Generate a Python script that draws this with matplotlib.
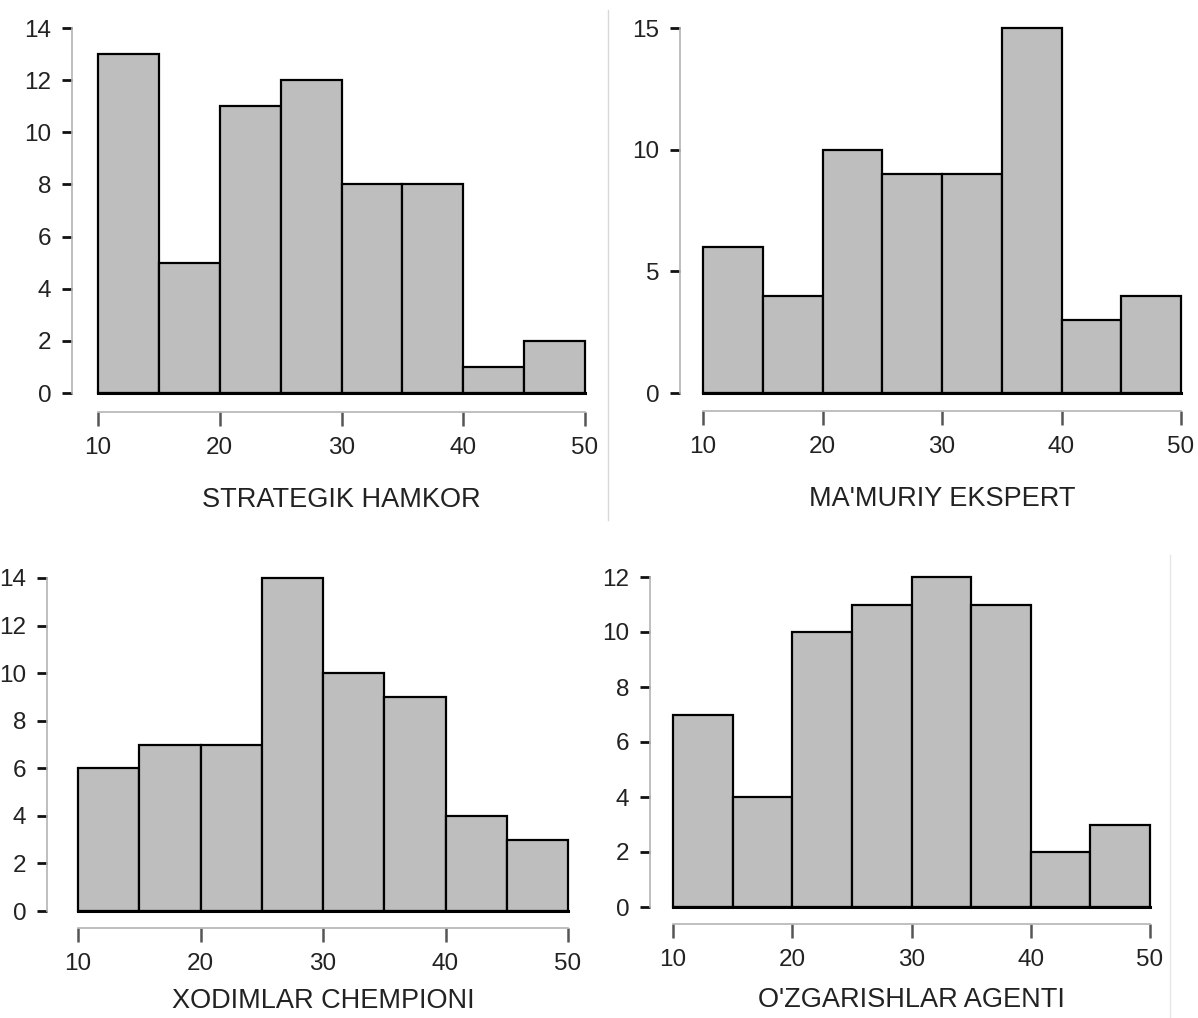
import matplotlib
matplotlib.use("Agg")
import matplotlib.pyplot as plt

plt.rcParams["font.family"] = ["Liberation Sans", "DejaVu Sans"]

bin_edges = [10, 15, 20, 25, 30, 35, 40, 45, 50]
x_ticks = [10, 20, 30, 40, 50]

titles = ["STRATEGIK HAMKOR", "MA'MURIY EKSPERT", "XODIMLAR CHEMPIONI", "O'ZGARISHLAR AGENTI"]
strategik = [13, 5, 11, 12, 8, 8, 1, 2]
mamuriy = [6, 4, 10, 9, 9, 15, 3, 4]
xodimlar = [6, 7, 7, 14, 10, 9, 4, 3]
ozgarish = [7, 4, 10, 11, 12, 11, 2, 3]
y_ticks = [[0, 2, 4, 6, 8, 10, 12, 14], [0, 5, 10, 15],
           [0, 2, 4, 6, 8, 10, 12, 14], [0, 2, 4, 6, 8, 10, 12]]

W, H = 1198, 1018
fig = plt.figure(figsize=(W / 100, H / 100), dpi=100)
PX = 72 / 100  # points per pixel

# panel layout in pixels: (x of 10, x of 50, y of 0, y of top tick, y-axis x, x-axis y, label pad)
panels = [
    (98, 585, 393, 28, 72, 412, 20),
    (703, 1181, 393, 28, 680, 411, 20),
    (78, 568, 911, 578, 47, 928, 9.5),
    (673, 1150, 907, 577, 650, 924, 11.5),
]

for counts, title, yt, (x0, x1, y0, y1, yax, xax, lpad) in zip(
        [strategik, mamuriy, xodimlar, ozgarish], titles, y_ticks, panels):
    ax = fig.add_axes([x0 / W, 1 - y0 / H, (x1 - x0) / W, (y0 - y1) / H])
    ax.bar(bin_edges[:-1], counts, width=5, align="edge", color="#bebebe",
           edgecolor="black", linewidth=1.6, clip_on=False)
    ax.plot([10, 50], [0, 0], color="black", lw=2.2, clip_on=False)
    ax.set_xlim(10, 50)
    ax.set_ylim(0, yt[-1])
    ax.set_xticks(x_ticks)
    ax.set_yticks(yt)
    for s in ("top", "right"):
        ax.spines[s].set_visible(False)
    ax.spines["left"].set_position(("outward", (x0 - yax) * PX))
    ax.spines["bottom"].set_position(("outward", (xax - y0) * PX))
    ax.spines["left"].set_bounds(0, yt[-1])
    ax.spines["bottom"].set_bounds(10, 50)
    for s in ("left", "bottom"):
        ax.spines[s].set_color("#b4b4b4")
        ax.spines[s].set_linewidth(1.2)
    ax.tick_params(axis="y", colors="#111111", labelcolor="#222222",
                   length=7, width=2, labelsize=17.5, pad=8)
    ax.tick_params(axis="x", colors="#555555", labelcolor="#222222",
                   length=10, width=1.8, labelsize=17.5, pad=8)
    ax.set_xlabel(title, fontsize=19.5, color="#222222", labelpad=lpad)
    ax.patch.set_visible(False)

# thin separator lines
fig.add_artist(plt.Line2D([608 / W, 608 / W], [1 - 10 / H, 1 - 520 / H],
                          color="#d8d8d8", lw=1))
fig.add_artist(plt.Line2D([1170 / W, 1170 / W], [1 - 555 / H, 0],
                          color="#e6e6e6", lw=1))

fig.savefig("out.png", dpi=100, facecolor="white")
